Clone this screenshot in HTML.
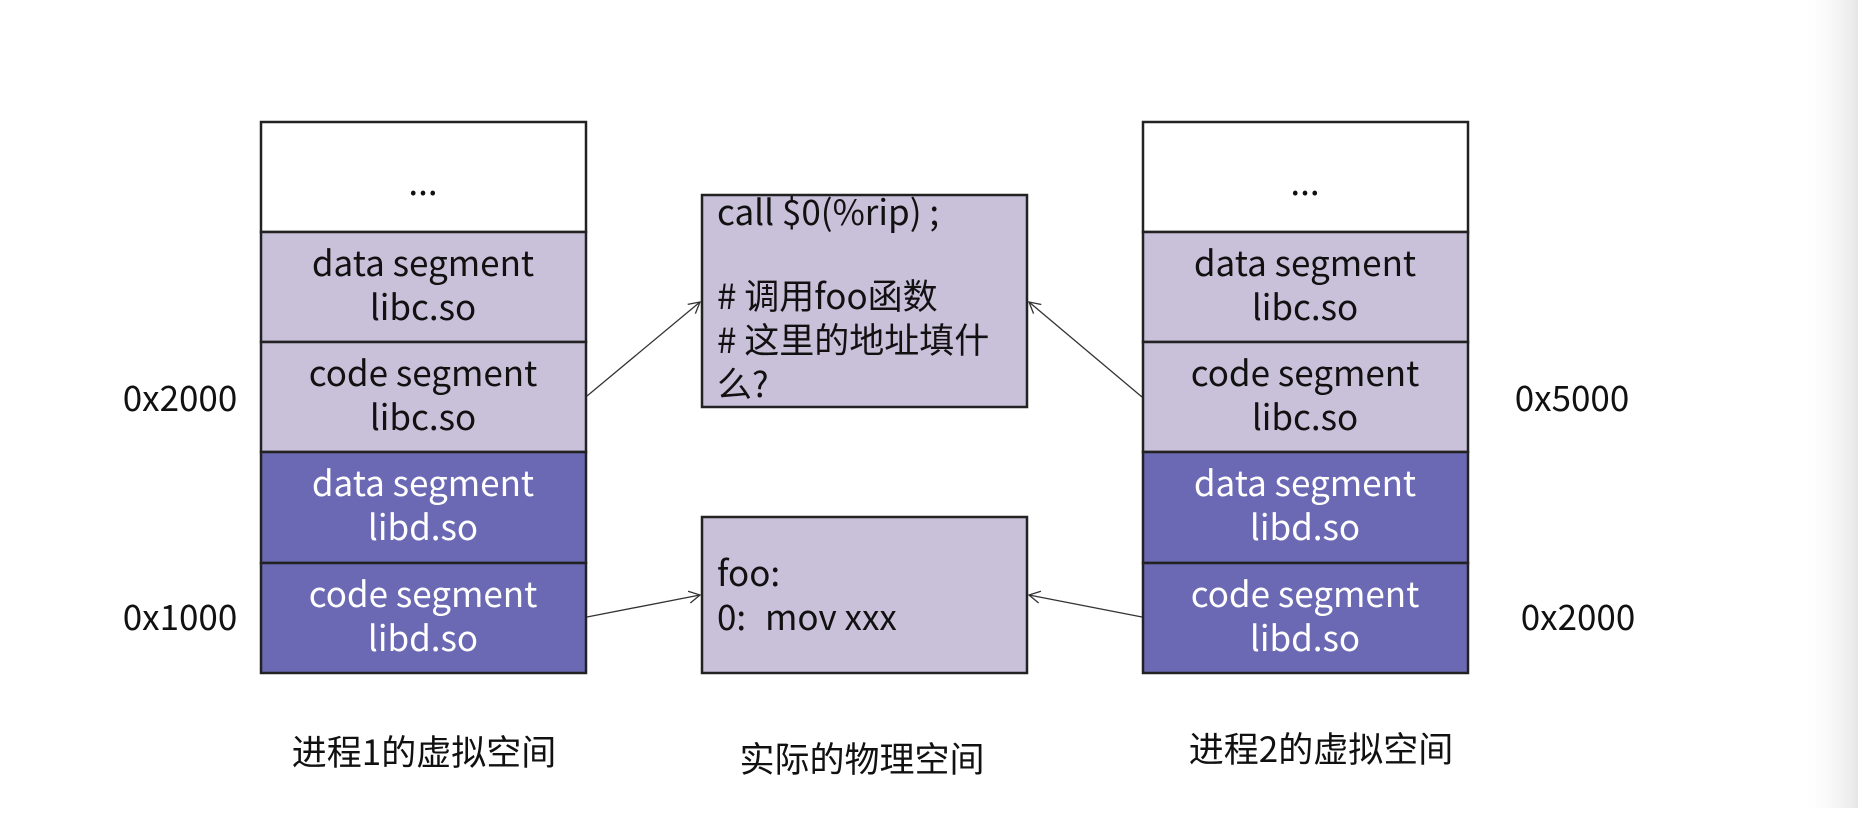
<!DOCTYPE html>
<html><head><meta charset="utf-8"><style>
html,body{margin:0;padding:0;background:#fff}
body{width:1858px;height:808px;overflow:hidden;position:relative}
svg text{font-family:"Noto Sans CJK SC","Liberation Sans",sans-serif}
</style></head><body>
<svg width="1858" height="808" viewBox="0 0 1858 808" xmlns="http://www.w3.org/2000/svg">
<defs>
<linearGradient id="g" x1="0" x2="1" y1="0" y2="0">
<stop offset="0" stop-color="#fff" stop-opacity="0"/>
<stop offset="1" stop-color="#e6e6e6"/>
</linearGradient>
<marker id="a" markerWidth="14" markerHeight="14" refX="12" refY="7" orient="auto" markerUnits="userSpaceOnUse">
<path d="M1,1 L12,7 L1,13" fill="none" stroke="#333" stroke-width="1.3"/>
</marker>
</defs>
<rect x="1800" y="0" width="58" height="808" fill="url(#g)"/>
<g stroke="#222" stroke-width="2.5">
<!-- left stack -->
<rect x="261" y="122" width="325" height="110" fill="#fff"/>
<rect x="261" y="232" width="325" height="110" fill="#c9c0da"/>
<rect x="261" y="342" width="325" height="110" fill="#c9c0da"/>
<rect x="261" y="452" width="325" height="111" fill="#6b69b4"/>
<rect x="261" y="563" width="325" height="110" fill="#6b69b4"/>
<!-- right stack -->
<rect x="1143" y="122" width="325" height="110" fill="#fff"/>
<rect x="1143" y="232" width="325" height="110" fill="#c9c0da"/>
<rect x="1143" y="342" width="325" height="110" fill="#c9c0da"/>
<rect x="1143" y="452" width="325" height="111" fill="#6b69b4"/>
<rect x="1143" y="563" width="325" height="110" fill="#6b69b4"/>
<!-- middle -->
<rect x="702" y="195" width="325" height="212" fill="#c9c0da"/>
<rect x="702" y="517" width="325" height="156" fill="#c9c0da"/>
</g>
<g stroke="#333" stroke-width="1.3" fill="none">
<line x1="587" y1="396" x2="700" y2="302" marker-end="url(#a)"/>
<line x1="587" y1="617" x2="700" y2="595" marker-end="url(#a)"/>
<line x1="1142" y1="397" x2="1029" y2="302" marker-end="url(#a)"/>
<line x1="1142" y1="617" x2="1029" y2="595" marker-end="url(#a)"/>
</g>
<g font-size="35" text-anchor="middle" fill="#111">
<text x="423" y="195">...</text>
<text x="1305" y="195">...</text>
<text x="423" y="276">data segment</text><text x="423" y="320">libc.so</text>
<text x="423" y="386">code segment</text><text x="423" y="430">libc.so</text>
<text x="1305" y="276">data segment</text><text x="1305" y="320">libc.so</text>
<text x="1305" y="386">code segment</text><text x="1305" y="430">libc.so</text>
<g fill="#fff">
<text x="423" y="496">data segment</text><text x="423" y="540">libd.so</text>
<text x="423" y="607">code segment</text><text x="423" y="651">libd.so</text>
<text x="1305" y="496">data segment</text><text x="1305" y="540">libd.so</text>
<text x="1305" y="607">code segment</text><text x="1305" y="651">libd.so</text>
</g>
<text x="180" y="411">0x2000</text>
<text x="180" y="630">0x1000</text>
<text x="1572" y="411">0x5000</text>
<text x="1578" y="630">0x2000</text>
<text x="424" y="765">进程1的虚拟空间</text>
<text x="862" y="772">实际的物理空间</text>
<text x="1321" y="762">进程2的虚拟空间</text>
</g>
<g font-size="35" fill="#111">
<text x="717" y="225">call $0(%rip) ;</text>
<text x="717" y="309"># 调用foo函数</text>
<text x="717" y="353"># 这里的地址填什</text>
<text x="717" y="397">么?</text>
<text x="717" y="586">foo:</text>
<text x="717" y="630">0:<tspan x="765">mov xxx</tspan></text>
</g>
</svg>
</body></html>
